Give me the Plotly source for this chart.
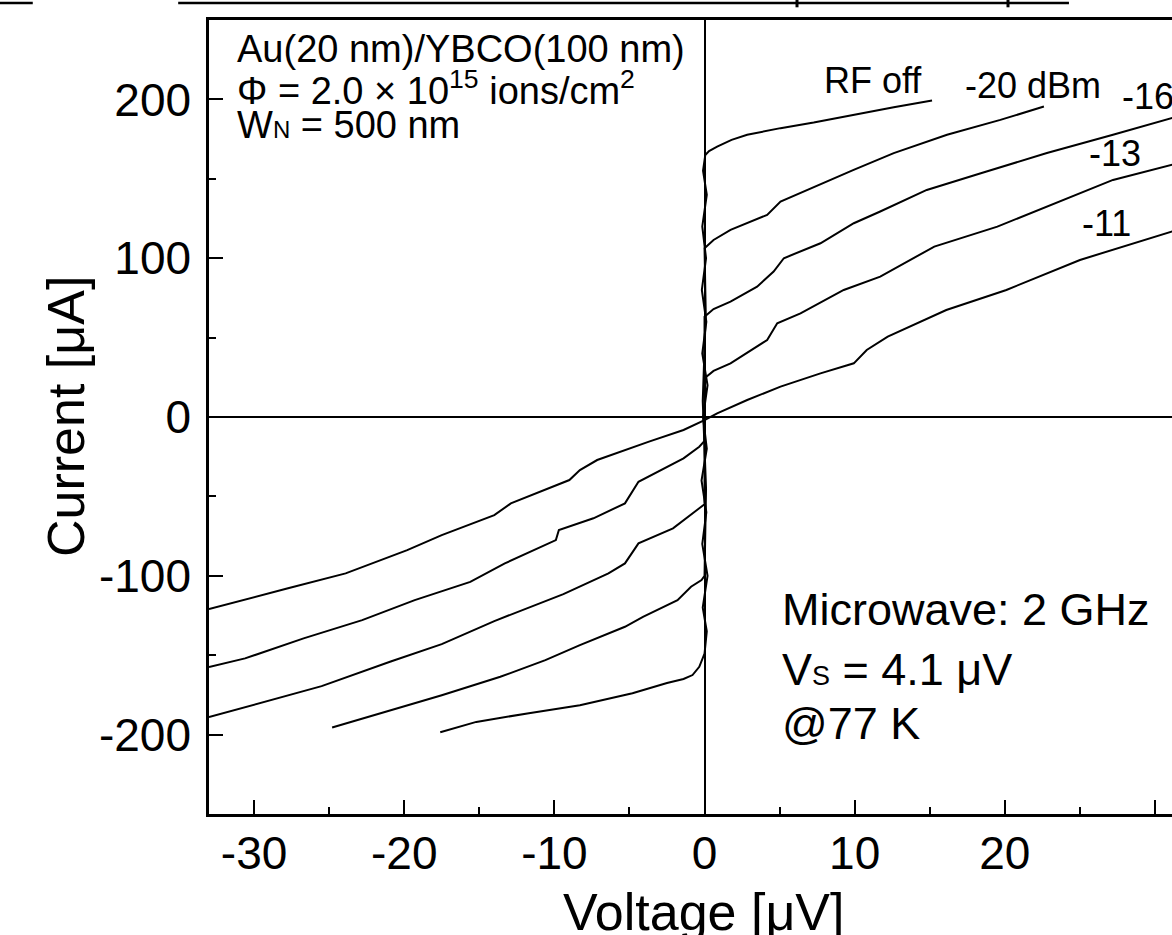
import plotly.graph_objects as go

# ---------------- data ----------------
# Voltage [uV] and Current [uA] for each I-V curve
rf_off_v = [-17.6, -15.2, -11.7, -8.3, -4.8, -2.5, -1.4, -0.8, -0.35, 0.0,
            0.15, -0.12, 0.2, -0.15, 0.12, -0.2, 0.15, -0.1, 0.2, -0.15, 0.12, -0.18, 0.1, -0.15, 0.15, -0.1, 0.05,
            0.3, 0.84, 1.8, 2.84, 5.06, 7.27, 9.93, 12.6, 15.15]
rf_off_i = [-198.5, -192.0, -186.5, -181.5, -174.0, -167.5, -165.0, -162.5, -157.3, -149.0,
            -135, -120, -100, -80, -60, -40, -20, 0, 20, 40, 60, 80, 100, 120, 140, 155, 165.0,
            167.5, 170.3, 174.5, 177.7, 181.9, 185.4, 190.3, 195.1, 199.3]

m20_v = [-24.8, -21.6, -17.5, -13.6, -10.6, -8.3, -5.3, -4.1, -1.8, -0.9, -0.2, 0.0,
         0.1, -0.12, 0.08, 0.0,
         0.6, 1.73, 3.0, 4.17, 5.06, 6.83, 9.93, 12.6, 16.15, 19.7, 22.6]
m20_i = [-195.5, -186.7, -175.2, -163.6, -153.1, -143.7, -132.1, -125.8, -115.3, -106.9, -102.7, -100.0,
         -45, 10, 65, 106.3,
         111.5, 117.8, 122.5, 127.3, 135.7, 143.0, 155.6, 166.2, 177.7, 187.1, 195.5]

m16_v = [-33.0, -30.1, -25.5, -20.9, -17.5, -14.0, -9.4, -6.4, -5.3, -4.4, -2.1, -0.35, 0.0,
         0.0, 0.6, 1.73, 3.5, 4.6, 5.28, 7.72, 9.94, 11.7, 14.8, 18.4, 22.8, 27.2, 31.2]
m16_i = [-189.0, -181.5, -169.5, -154.0, -143.0, -128.5, -111.5, -98.5, -92.2, -79.6, -70.1, -57.5, -55.0,
         63.2, 68.0, 72.6, 82.1, 91.6, 100.0, 109.4, 122.0, 129.4, 143.0, 153.5, 166.2, 177.7, 188.5]

m13_v = [-33.0, -30.6, -26.7, -22.8, -19.3, -15.6, -13.3, -9.9, -9.7, -7.4, -5.3, -4.8, -4.4, -1.4, -0.35, 0.0,
         0.0, 0.6, 1.73, 4.17, 4.84, 6.39, 9.27, 11.7, 15.3, 19.5, 22.8, 27.2, 31.2]
m13_i = [-157.5, -152.0, -139.4, -127.9, -115.3, -103.8, -92.2, -77.5, -71.2, -63.8, -54.4, -47.1, -40.8, -26.0, -18.7, -15.0,
         24.4, 29.0, 33.8, 48.5, 59.0, 65.3, 80.0, 88.4, 107.3, 119.9, 132.5, 149.3, 159.0]

m11_v = [-33.0, -31.2, -27.8, -23.9, -19.8, -17.5, -14.0, -12.9, -9.0, -8.3, -7.15, -3.7, -1.4, 0.0,
         0.84, 2.84, 5.06, 7.72, 9.94, 10.8, 12.2, 16.1, 20.1, 25.0, 31.2]
m11_i = [-121.0, -116.4, -108.0, -98.5, -83.8, -74.4, -61.8, -54.4, -39.7, -33.4, -27.1, -15.5, -8.2, -2.0,
         2.3, 10.7, 19.1, 27.5, 33.8, 42.2, 50.6, 67.4, 80.0, 98.9, 117.0]

x_ticks = [-30, -20, -10, 0, 10, 20, 30]
x_tick_text = ["-30", "-20", "-10", "0", "10", "20", "30"]
y_ticks = [-200, -100, 0, 100, 200]
y_tick_text = ["-200", "-100", "0", "100", "200"]

FONT = "Liberation Sans, Arial, sans-serif"

fig = go.Figure()
for v, i in [(rf_off_v, rf_off_i), (m20_v, m20_i), (m16_v, m16_i), (m13_v, m13_i), (m11_v, m11_i)]:
    fig.add_trace(go.Scatter(x=v, y=i, mode="lines",
                             line=dict(color="black", width=2), showlegend=False))

axis_common = dict(
    ticks="inside", ticklen=14, tickwidth=2, tickcolor="black",
    showline=True, linewidth=2.5, linecolor="black",
    showgrid=False, zeroline=True, zerolinecolor="black", zerolinewidth=2,
    tickfont=dict(family=FONT, size=46, color="black"),
)
fig.update_xaxes(range=[-33, 31.13], tickvals=x_ticks, ticktext=x_tick_text, mirror=True,
                 ticklabelstandoff=-3,
                 minor=dict(dtick=5, ticks="inside", ticklen=7, tickwidth=2, tickcolor="black"),
                 **axis_common)
fig.update_yaxes(range=[-250, 250], tickvals=y_ticks, ticktext=y_tick_text, mirror=False,
                 ticklabelstandoff=6,
                 minor=dict(dtick=50, ticks="inside", ticklen=7, tickwidth=2, tickcolor="black"),
                 **axis_common)

ann = []
# axis titles
tf = dict(family=FONT, size=52, color="black")
ann.append(dict(text="Current [μA]", xref="paper", yref="paper", x=(66 - 209) / 963, y=0.5,
                xanchor="center", yanchor="middle",
                textangle=-90, showarrow=False, font=tf))
ann.append(dict(text="Voltage [μV]", xref="paper", yref="paper", x=(703 - 209) / 963,
                y=(814 - 912) / 794, xanchor="center", yanchor="middle",
                showarrow=False, font=tf))
# top-left sample info
tl = dict(family=FONT, size=38, color="black")
ann.append(dict(text="Au(20 nm)/YBCO(100 nm)", x=-31.3, y=232, xanchor="left", yanchor="middle",
                showarrow=False, font=tl))
ann.append(dict(text="Φ = 2.0 × 10<sup>15</sup> ions/cm<sup>2</sup>", x=-31.3, y=207, xanchor="left",
                yanchor="middle", showarrow=False, font=tl))
ann.append(dict(text="W<span style='font-size:24px'>N</span> = 500 nm", x=-31.3, y=184, xanchor="left",
                yanchor="middle", showarrow=False, font=tl))
# curve labels
cl = dict(family=FONT, size=36, color="black")
ann.append(dict(text="RF off", x=11.2, y=212, xanchor="center", yanchor="middle", showarrow=False, font=cl))
ann.append(dict(text="-20 dBm", x=21.9, y=209, xanchor="center", yanchor="middle", showarrow=False, font=cl))
ann.append(dict(text="-16", x=27.7, y=202, xanchor="left", yanchor="middle", showarrow=False, font=cl))
ann.append(dict(text="-13", x=27.35, y=166, xanchor="center", yanchor="middle", showarrow=False, font=cl))
ann.append(dict(text="-11", x=26.75, y=122, xanchor="center", yanchor="middle", showarrow=False, font=cl))
# microwave info
mw = dict(family=FONT, size=45, color="black")
ann.append(dict(text="Microwave: 2 GHz", x=5.0, y=-121, xanchor="left", yanchor="middle",
                showarrow=False, font=mw))
ann.append(dict(text="V<span style='font-size:27px'>S</span> = 4.1 μV", x=5.0, y=-159, xanchor="left",
                yanchor="middle", showarrow=False, font=mw))
ann.append(dict(text="@77 K", x=5.0, y=-193, xanchor="left", yanchor="middle", showarrow=False, font=mw))

# remnants of the neighbouring panel above (cropped)
shapes = [
    dict(type="line", xref="paper", yref="paper", x0=-0.218, x1=-0.183, y0=1.0214, y1=1.0214,
         line=dict(color="black", width=2.5)),
    dict(type="line", xref="paper", yref="paper", x0=-0.032, x1=0.893, y0=1.0214, y1=1.0214,
         line=dict(color="black", width=2.5)),
    dict(type="line", xref="paper", yref="paper", x0=0.6106, x1=0.6106, y0=1.026, y1=1.016,
         line=dict(color="black", width=3)),
    dict(type="line", xref="paper", yref="paper", x0=0.8297, x1=0.8297, y0=1.026, y1=1.016,
         line=dict(color="black", width=3)),
]

fig.update_layout(
    width=1172, height=935,
    margin=dict(l=209, r=0, t=20, b=121),
    paper_bgcolor="white", plot_bgcolor="white",
    annotations=ann, shapes=shapes,
    font=dict(family=FONT, color="black"),
)
fig.write_html("out.html")
